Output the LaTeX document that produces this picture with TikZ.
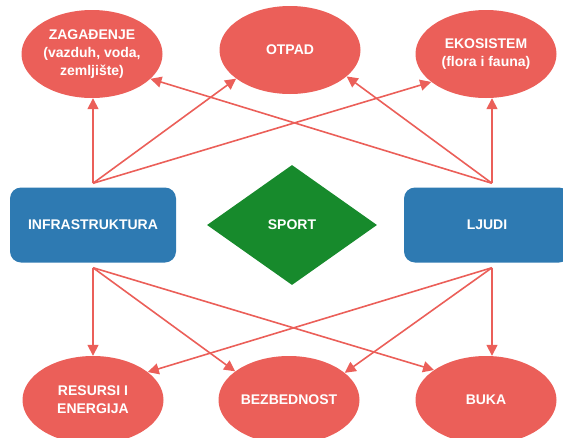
\documentclass[tikz,border=0pt]{standalone}
\usepackage{fontspec}
\setmainfont{Liberation Sans}
\usetikzlibrary{%
  arrows.meta,%
  shapes.geometric,% wg. ellipse, diamond
  calc%
}
\definecolor{effekt}{HTML}{EB5F59}
\definecolor{faktor}{HTML}{2E7AB2}
\definecolor{kern}{HTML}{178A2C}

\begin{document}
\begin{tikzpicture}[
    x=1pt,y=-1pt,
    >={Triangle[length=11pt,width=11pt]},
    font=\bfseries\fontsize{14}{18}\selectfont,
    effect/.style={ellipse,fill=effekt,text=white,align=center,
        minimum width=141pt,minimum height=88pt,inner sep=0pt},
    factor/.style={rectangle,rounded corners=11pt,fill=faktor,text=white,
        minimum width=166pt,minimum height=75pt},
    core/.style={diamond,fill=kern,text=white,
        minimum width=170pt,minimum height=120pt,inner sep=0pt},
    link/.style={->,draw=effekt,line width=1.6pt}
  ]
    \useasboundingbox (0,0) rectangle (563,437);
    \clip (0,0) rectangle (563,437);

    \node[effect] (zag)   at (92,54)  {ZAGAĐENJE\\(vazduh, voda,\\zemljište)};
    \node[effect] (otpad) at (290,50) {OTPAD};
    \node[effect] (eko)   at (486,54) {EKOSISTEM\\(flora i fauna)};

    \node[factor] (infra)  at (93,225)  {INFRASTRUKTURA};
    \node[core]   (sport)  at (292,225) {SPORT};
    \node[factor] (ljudi)  at (487,225) {LJUDI};

    \node[effect] (res)  at (93,400)  {RESURSI I\\ENERGIJA};
    \node[effect] (bez)  at (289,400) {BEZBEDNOST};
    \node[effect] (buka) at (486,400) {BUKA};

    \coordinate (infT) at ([yshift=4pt]infra.north);
    \coordinate (infB) at ([yshift=-5pt]infra.south);
    \coordinate (ljT)  at ([xshift=5pt,yshift=4pt]ljudi.north);
    \coordinate (ljB)  at ([xshift=5pt,yshift=-5pt]ljudi.south);

    \begin{scope}[every path/.style=link]
     \draw (infT) -- (infT |- zag.south);
     \draw (infT) -- (otpad.208);
     \draw (infT) -- (eko.207);
     \draw (ljT) -- (zag.337);
     \draw (ljT) -- (otpad.335);
     \draw (ljT) -- (ljT |- eko.south);

     \draw (infB) -- (infB |- res.north);
     \draw (infB) -- (bez.152);
     \draw (infB) -- (buka.150);
     \draw (ljB) -- (res.27);
     \draw (ljB) -- (bez.26);
     \draw (ljB) -- (ljB |- buka.north);
    \end{scope}
\end{tikzpicture}
\end{document}
